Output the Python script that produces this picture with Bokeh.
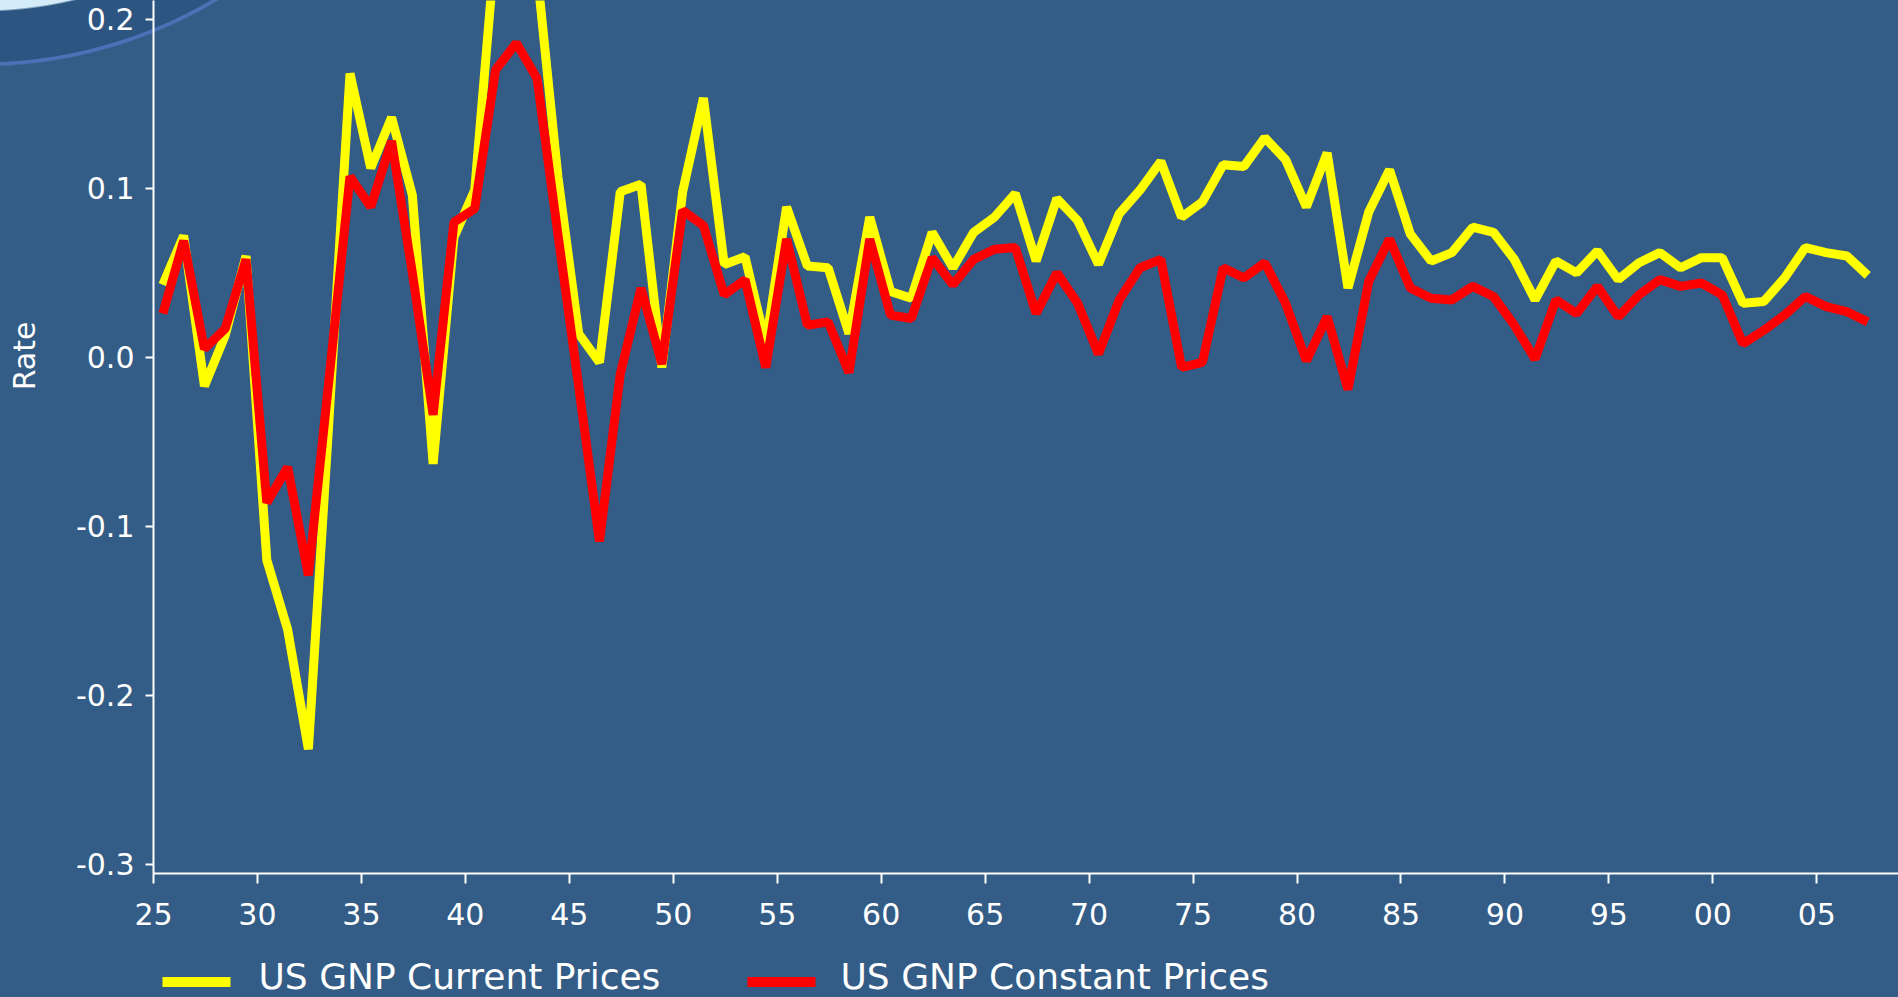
from bokeh.plotting import figure
from bokeh.layouts import column
from bokeh.models import Range1d, FixedTicker, NumeralTickFormatter
from bokeh.core.properties import value
from bokeh.embed import file_html
from bokeh.resources import INLINE

# ---------------- data ----------------
years = list(range(1925, 2008))

gnp_current = [
    0.043, 0.072, -0.017, 0.013, 0.060, -0.120, -0.161, -0.232, -0.035, 0.168,   # 1925-34
    0.112, 0.142, 0.096, -0.063, 0.071, 0.099, 0.245, 0.280, 0.228, 0.107,      # 1935-44
    0.014, -0.003, 0.098, 0.1025, -0.006, 0.098, 0.1535, 0.055, 0.0595, 0.008,  # 1945-54
    0.089, 0.054, 0.053, 0.014, 0.083, 0.039, 0.035, 0.074, 0.053, 0.074,       # 1955-64
    0.083, 0.097, 0.057, 0.094, 0.081, 0.055, 0.085, 0.099, 0.116, 0.083,       # 1965-74
    0.092, 0.114, 0.113, 0.130, 0.117, 0.089, 0.121, 0.041, 0.086, 0.111,       # 1975-84
    0.073, 0.057, 0.062, 0.077, 0.074, 0.058, 0.034, 0.057, 0.050, 0.063,       # 1985-94
    0.046, 0.056, 0.062, 0.053, 0.059, 0.059, 0.032, 0.033, 0.047, 0.065,       # 1995-2004
    0.062, 0.060, 0.0485,                                                       # 2005-07
]

gnp_constant = [
    0.026, 0.069, 0.005, 0.017, 0.058, -0.086, -0.065, -0.129, -0.012, 0.107,   # 1925-34
    0.089, 0.128, 0.050, -0.034, 0.080, 0.088, 0.170, 0.186, 0.165, 0.073,      # 1935-44
    -0.017, -0.109, -0.010, 0.041, -0.004, 0.087, 0.078, 0.037, 0.046, -0.006,  # 1945-54
    0.070, 0.019, 0.021, -0.009, 0.070, 0.025, 0.023, 0.059, 0.043, 0.058,      # 1955-64
    0.064, 0.065, 0.026, 0.050, 0.032, 0.002, 0.034, 0.053, 0.058, -0.006,      # 1965-74
    -0.003, 0.053, 0.047, 0.056, 0.032, -0.002, 0.024, -0.019, 0.045, 0.070,    # 1975-84
    0.041, 0.035, 0.034, 0.042, 0.036, 0.019, -0.001, 0.034, 0.026, 0.042,      # 1985-94
    0.024, 0.037, 0.046, 0.042, 0.044, 0.037, 0.008, 0.016, 0.025, 0.036,       # 1995-2004
    0.030, 0.027, 0.021,                                                        # 2005-07
]

series_names = ["US GNP Current Prices", "US GNP Constant Prices"]
series_colors = ["#ffff00", "#ff0000"]

x_ticks = [1925, 1930, 1935, 1940, 1945, 1950, 1955, 1960, 1965,
           1970, 1975, 1980, 1985, 1990, 1995, 2000, 2005]
x_tick_labels = ["25", "30", "35", "40", "45", "50", "55", "60", "65",
                 "70", "75", "80", "85", "90", "95", "00", "05"]
y_ticks = [-0.3, -0.2, -0.1, 0.0, 0.1, 0.2]
y_tick_labels = ["-0.3", "-0.2", "-0.1", "0.0", "0.1", "0.2"]
y_title = "Rate"

# ---------------- style ----------------
BG = "#335c86"
FONT = "DejaVu Sans"
W = 1898
H_MAIN, H_LEG = 937, 60
LEFT, BOTTOM = 153, 64

p = figure(width=W, height=H_MAIN, output_backend="svg", toolbar_location=None,
           x_range=Range1d(1925, 2008.93), y_range=Range1d(-0.3055, 0.2112),
           min_border_left=LEFT, min_border_right=0, min_border_top=0,
           min_border_bottom=BOTTOM,
           background_fill_color=BG, background_fill_alpha=0,
           border_fill_color=BG, border_fill_alpha=0,
           outline_line_color=None)
# slide background: light blob + dark band + thin arc in the top-left corner
p.styles = {"background": (
    "radial-gradient(circle at -20px -397px, "
    "#d3ecf8 0px, #d3ecf8 407px, #2c5581 409px, #2c5581 459px, "
    "#4a72b6 460px, #4a72b6 462.5px, " + BG + " 464px), " + BG)}
p.grid.visible = False

xs = [yr + 0.45 for yr in years]
r1 = p.line(xs, gnp_current, line_color=series_colors[0], line_width=9,
            line_join="bevel")
r2 = p.line(xs, gnp_constant, line_color=series_colors[1], line_width=9,
            line_join="bevel")

for ax in (p.xaxis[0], p.yaxis[0]):
    ax.axis_line_color = "white"
    ax.axis_line_width = 2
    ax.major_tick_line_color = "white"
    ax.major_tick_line_width = 2
    ax.minor_tick_line_color = None
    ax.major_tick_in = 0
    ax.major_label_text_color = "white"
    ax.major_label_text_font = FONT
    ax.major_label_text_font_size = "30px"

p.xaxis.ticker = FixedTicker(ticks=x_ticks)
p.xaxis.major_label_overrides = dict(zip(x_ticks, x_tick_labels))
p.xaxis.major_tick_out = 10
p.xaxis.major_label_standoff = 19

p.yaxis.ticker = FixedTicker(ticks=y_ticks)
p.yaxis.formatter = NumeralTickFormatter(format="0.0")
p.yaxis.major_label_overrides = dict(zip(y_ticks, y_tick_labels))
p.yaxis.major_tick_out = 8
p.yaxis.major_label_standoff = 11
# the title sits level with 0.0 in the reference: leading no-break spaces
# shift the (frame-centred) rotated label upward
p.yaxis.axis_label = "\u00a0" * 17 + y_title
p.yaxis.axis_label_text_color = "white"
p.yaxis.axis_label_text_font = FONT
p.yaxis.axis_label_text_font_style = "normal"
p.yaxis.axis_label_text_font_size = "30px"
p.yaxis.axis_label_standoff = 31

# ---------------- legend strip below the chart ----------------
lg = figure(width=W, height=H_LEG, output_backend="svg", toolbar_location=None,
            x_range=Range1d(LEFT, W), y_range=Range1d(H_LEG, 0),
            x_axis_type=None, y_axis_type=None,
            min_border_left=LEFT, min_border_right=0, min_border_top=0,
            min_border_bottom=0,
            background_fill_color=BG, background_fill_alpha=0,
            border_fill_color=BG, border_fill_alpha=0,
            outline_line_color=None)
lg.styles = {"background": BG}
lg.grid.visible = False
swatch_x0 = [162, 747]
swatch_len = 68
swatch_y = 44.5
label_x = [258, 840]
lg.segment(x0=swatch_x0, y0=[swatch_y] * 2,
           x1=[v + swatch_len for v in swatch_x0], y1=[swatch_y] * 2,
           line_color=series_colors, line_width=10, line_cap="butt")
lg.text(x=label_x, y=[39] * 2, text=series_names, text_color="white",
        text_font=value(FONT), text_font_size="36px",
        text_baseline="middle", text_align="left")

layout = column(p, lg, spacing=0)
open("out.html", "w").write(file_html(layout, INLINE))
